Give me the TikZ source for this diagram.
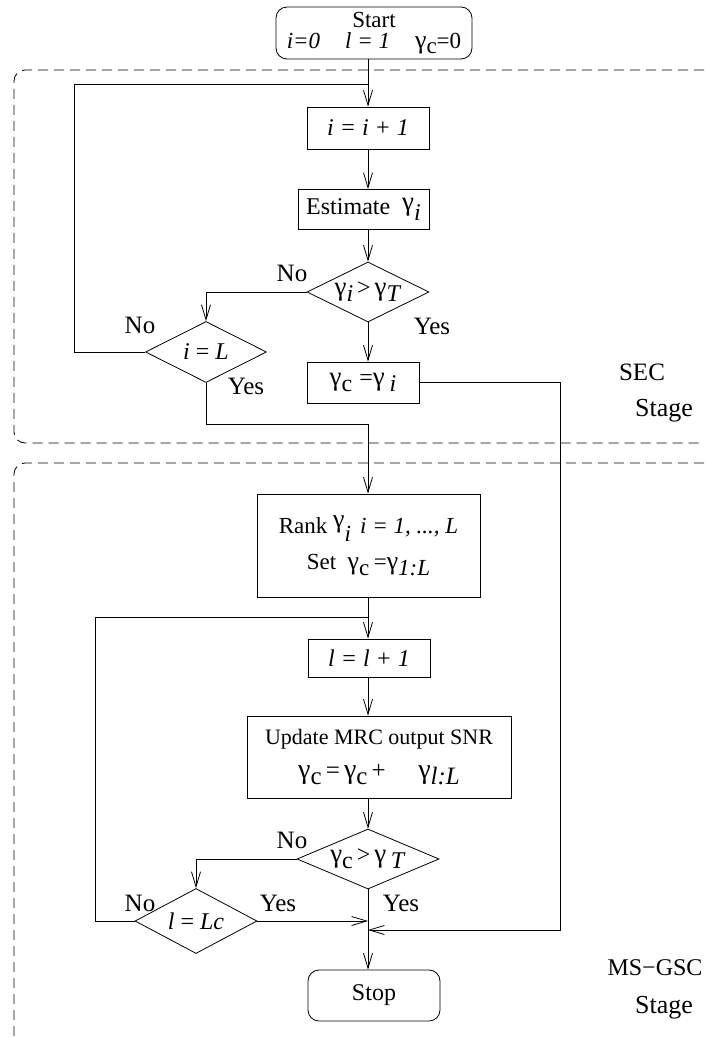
\documentclass[tikz,border=0pt]{standalone}
\usepackage{fontspec}
\setmainfont{Liberation Serif}
\usetikzlibrary{arrows.meta,shapes.geometric}
\newcommand\lowsub[1]{\raisebox{-0.55ex}{#1}}
\newcommand\gm{\scalebox{1.12}{γ}}
\begin{document}
\begin{tikzpicture}[x=1pt,y=-1pt,
  font=\fontsize{24}{26}\selectfont,
  line width=0.8pt,
  box/.style={draw, inner sep=0pt, align=center},
  rbox/.style={draw, inner sep=0pt, align=center, rounded corners=11pt},
  dia/.style={draw, diamond, inner sep=0pt, aspect=2},
  lbl/.style={inner sep=0pt, font=\fontsize{25}{27}\selectfont},
  arr/.style={-{Straight Barb[length=15pt,width=9pt]}},
  stage/.style={draw, dash pattern=on 10pt off 6pt, line width=0.8pt, rounded corners=11pt}]
\useasboundingbox (0,0) rectangle (704,1038);
% stage frames
\draw[stage] (704,70) -- (14,70) -- (14,443) -- (704,443);
\draw[stage] (704,463) -- (14,463) -- (14,1038);
% nodes
\node[rbox, minimum width=196pt, minimum height=52pt, font=\fontsize{23}{21}\selectfont] (start) at (374,33)
  {Start\\\textit{i=0}\hspace{25pt}\textit{l = 1}\hspace{25pt}\gm\lowsub{c}=0};
\coordinate (mx) at (368,0);
\node[box, minimum width=122pt, minimum height=42pt] (inc) at (368,128) {\textit{i = i + 1}};
\node[box, minimum width=131pt, minimum height=40pt] (est) at (363.5,209.5) {Estimate\hspace{0.5em}\raisebox{0.35ex}{\gm}\lowsub{\textit{i}}};
\node[dia, minimum width=122pt, minimum height=60pt] (d1) at (368,292) {\gm\lowsub{\textit{i}}\,>\,\gm\lowsub{\textit{T}}};
\node[dia, minimum width=121pt, minimum height=61pt] (d2) at (206,352) {\textit{i} = \textit{L}};
\node[box, minimum width=112pt, minimum height=41pt] (gc) at (363,382.5) {\gm\lowsub{c}\hspace{0.3em}=\gm\hspace{0.2em}\lowsub{\textit{i}}};
\node[box, minimum width=223pt, minimum height=103pt, font=\fontsize{23}{36}\selectfont] (rank) at (368.5,545.5)
  {Rank \raisebox{0.6ex}{\gm}\raisebox{-0.8ex}{\textit{i}}\hspace{0.4em}\textit{i = 1, ..., L}\\
   Set\hspace{0.5em}\gm\lowsub{c}\hspace{0.2em}=\gm\lowsub{\textit{1:L}}};
\node[box, minimum width=122pt, minimum height=38pt] (inc2) at (369,658) {\textit{l = l + 1}};
\node[box, minimum width=264pt, minimum height=82pt, font=\fontsize{22}{34}\selectfont] (upd) at (379,757)
  {Update MRC output SNR\\{\fontsize{25}{27}\selectfont\gm\lowsub{c}\,=\,\gm\lowsub{c}\,+\hspace{1.3em}\gm\lowsub{\textit{l:L}}}};
\node[dia, minimum width=142pt, minimum height=60pt] (d3) at (368,859) {\gm\lowsub{c}\,>\,\gm\hspace{0.2em}\lowsub{\textit{T}}};
\node[dia, minimum width=122pt, minimum height=65pt] (d4) at (196,921) {\textit{l} = \textit{Lc}};
\node[rbox, minimum width=132pt, minimum height=51pt] (stop) at (374,995.5) {Stop};
% junction coordinates
\coordinate (lb1) at (74,84);
\coordinate (j1) at (368,84);
\coordinate (j2) at (206,424);
\coordinate (j3) at (560,382.5);
\coordinate (j5) at (368,930);
\coordinate (lb2) at (95,617);
\coordinate (j6) at (368,617);
% connectors
\draw[arr] (start.south -| mx) -- (inc.north -| mx);
\draw[arr] (inc.south -| mx) -- (est.north -| mx);
\draw[arr] (est.south -| mx) -- (d1.north);
\draw[arr] (d1.south) -- (gc.north -| d1.south);
\draw[arr] (d1.west) -| (d2.north);
\draw (d2.west) -| (lb1) -- (j1);
\draw[arr] (d2.south) -- (j2) -| (rank.north -| mx);
\draw[arr] (gc.east) -- (j3) |- (j5);
\draw[arr] (rank.south -| mx) -- (inc2.north -| mx);
\draw (d4.west) -| (lb2) -- (j6);
\draw[arr] (inc2.south -| mx) -- (upd.north -| mx);
\draw[arr] (upd.south -| mx) -- (d3.north);
\draw[arr] (d3.west) -| (d4.north);
\draw[arr] (d4.east) -- (d4.east -| mx);
\draw[arr] (d3.south) -- (stop.north -| mx);
% labels
\node[lbl] (no1) at (292,273) {No};
\node[lbl] (yes1) at (432,326) {Yes};
\node[lbl] (no2) at (140,325) {No};
\node[lbl] (yes2) at (246,386) {Yes};
\node[lbl] (no3) at (292,840) {No};
\node[lbl] (no4) at (140,903) {No};
\node[lbl] (yes3) at (278,903) {Yes};
\node[lbl] (yes4) at (401,903) {Yes};
\node[lbl, font=\fontsize{25}{27}\selectfont] (sec) at (642,372) {SEC};
\node[lbl, font=\fontsize{26}{28}\selectfont] (st1) at (664,411) {Stage};
\node[lbl, font=\fontsize{24}{26}\selectfont] (ms) at (655,968) {MS−GSC};
\node[lbl, font=\fontsize{26}{28}\selectfont] (st2) at (664,1008) {Stage};
\end{tikzpicture}
\end{document}
